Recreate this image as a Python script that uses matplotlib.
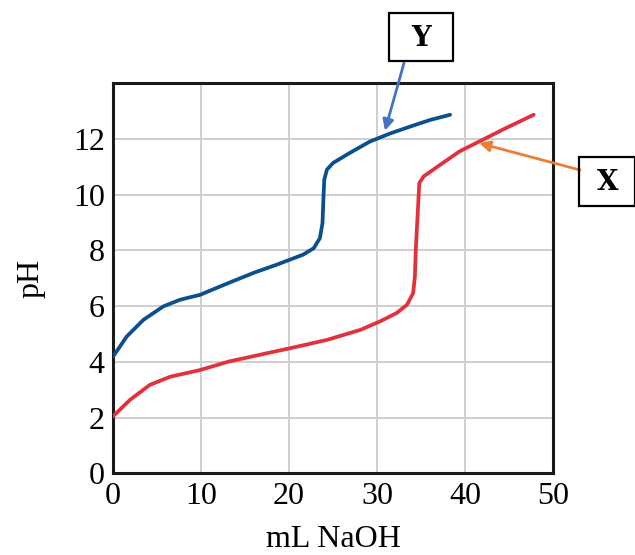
import matplotlib.pyplot as plt
import matplotlib.patches as mpatches
import numpy as np

# titration curves (mL NaOH, pH)
y_ml = [0, 1.55, 3.45, 5.7, 7.6, 9.9, 13.1, 16.0, 18.6, 20.1, 21.6, 22.8, 23.5, 23.8, 23.9, 24.0, 24.3,
        25.0, 26.9, 29.2, 31.5, 33.8, 36.0, 38.3]
y_ph = [4.19, 4.91, 5.51, 5.99, 6.23, 6.41, 6.83, 7.2, 7.49, 7.67, 7.85, 8.08, 8.44, 8.98, 9.82, 10.54, 10.90,
        11.14, 11.50, 11.91, 12.2, 12.45, 12.68, 12.87]

x_ml = [0, 1.93, 4.2, 6.5, 9.9, 13.1, 17.0, 20.1, 24.3, 28.1, 30.3, 32.2, 33.4, 34.1, 34.3, 34.4, 34.6,
        34.8, 35.3, 37.2, 39.4, 41.3, 44.5, 47.8]
x_ph = [2.05, 2.64, 3.18, 3.47, 3.71, 4.01, 4.28, 4.49, 4.79, 5.15, 5.45, 5.75, 6.05, 6.47, 7.07, 8.02, 9.22,
        10.42, 10.66, 11.08, 11.56, 11.86, 12.37, 12.87]

xticks = [0, 10, 20, 30, 40, 50]
yticks = [0, 2, 4, 6, 8, 10, 12]

plt.rcParams['font.family'] = ['Liberation Serif', 'DejaVu Serif']

fig = plt.figure(figsize=(6.35, 5.55), dpi=100)
ax = fig.add_axes([0.178, 0.147, 0.693, 0.703])

ax.plot(y_ml, y_ph, color='#0b4f8c', lw=2.7, solid_capstyle='round', solid_joinstyle='round', zorder=3)
ax.plot(x_ml, x_ph, color='#e3313c', lw=2.7, solid_capstyle='round', solid_joinstyle='round', zorder=3)

ax.set_xlim(0, 50)
ax.set_ylim(0, 14)
ax.set_xticks(xticks)
ax.set_yticks(yticks)
ax.tick_params(length=0, labelsize=23, pad=6)
ax.grid(True, color='#cfcfcf', lw=1.4)
ax.set_axisbelow(True)
for s in ax.spines.values():
    s.set_linewidth(2.2)
    s.set_color('#1a1a1a')
ax.set_xlabel('mL NaOH', fontsize=23, labelpad=10)
ax.set_ylabel('pH', fontsize=23, labelpad=20)

# label boxes
W, H = 635.0, 555.0
fig.patches.append(mpatches.Rectangle((389 / W, 1 - 61 / H), 64 / W, 48 / H, transform=fig.transFigure,
                                      fill=False, lw=1.6, ec='black'))
fig.text(421 / W, 1 - 38 / H, 'Y', ha='center', va='center', fontsize=20, fontweight='bold',
         family='DejaVu Serif')
fig.patches.append(mpatches.Rectangle((579 / W, 1 - 206 / H), 56 / W, 49 / H, transform=fig.transFigure,
                                      fill=False, lw=1.6, ec='black'))
fig.text(608 / W, 1 - 183 / H, 'X', ha='center', va='center', fontsize=20, fontweight='bold',
         family='DejaVu Serif')

ax.annotate('', xy=(30.9, 12.3), xycoords='data', xytext=(404 / W, 1 - 63 / H), textcoords='figure fraction',
            arrowprops=dict(arrowstyle='-|>', color='#4472c4', lw=2, mutation_scale=16, shrinkA=0, shrinkB=0))
ax.annotate('', xy=(41.6, 11.85), xycoords='data', xytext=(580 / W, 1 - 170 / H), textcoords='figure fraction',
            arrowprops=dict(arrowstyle='-|>', color='#ed7d31', lw=2, mutation_scale=16, shrinkA=0, shrinkB=0),
            annotation_clip=False)

fig.savefig('out.png', dpi=100)
